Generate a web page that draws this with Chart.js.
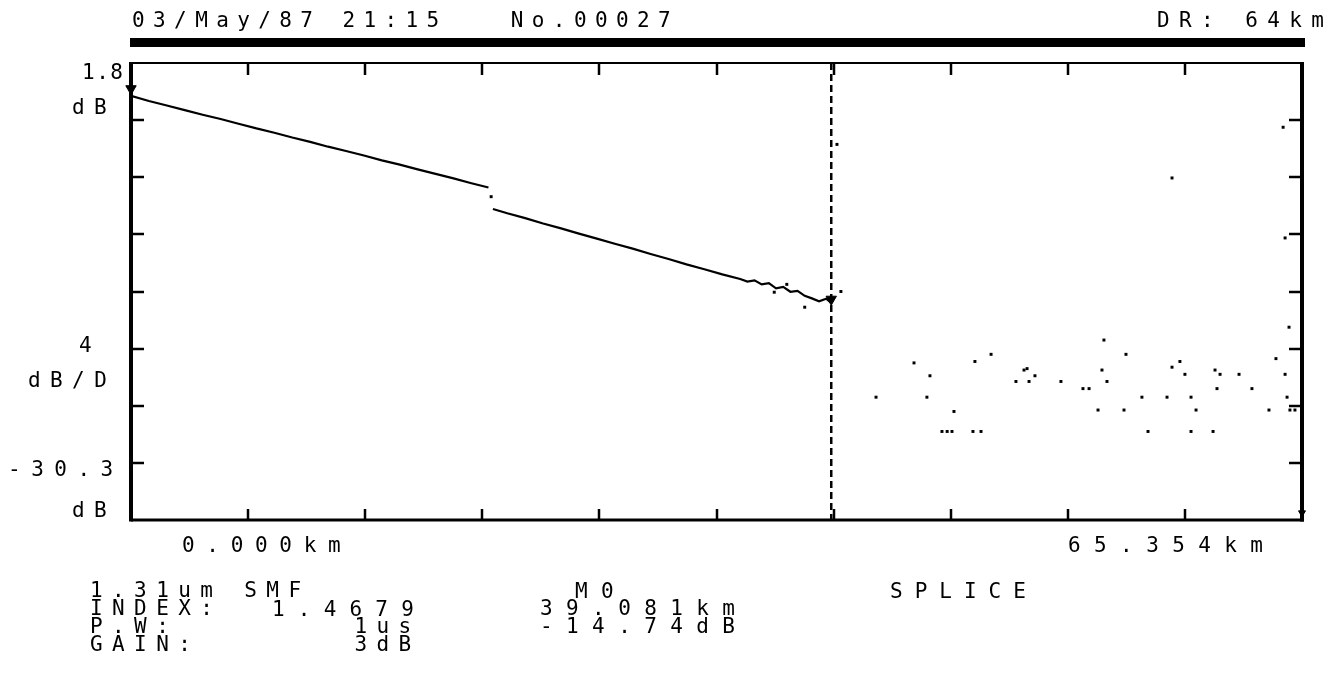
<!DOCTYPE html>
<html>
<head>
<meta charset="utf-8">
<script src="https://cdn.jsdelivr.net/npm/chart.js@4.4.1/dist/chart.umd.min.js"></script>
<style>
  html, body { margin: 0; padding: 0; background: #fff; }
  #wrap { position: relative; width: 1330px; height: 673px; overflow: hidden; background: #fff; }
  #c { position: absolute; left: 0; top: 0; }
  .t { position: absolute; font-family: "DejaVu Sans Mono", monospace; font-size: 21px; line-height: 21px;
       letter-spacing: 9.4px; white-space: pre; color: #000; }
  #bar { position: absolute; left: 130px; top: 38px; width: 1175px; height: 9px; background: #000; }
</style>
</head>
<body>
<div id="wrap">
  <canvas id="c" width="1330" height="673"></canvas>
  <div class="t" style="left:132px;top:10px;letter-spacing:8.4px;">03/May/87 21:15   No.00027</div>
  <div class="t" style="left:1157px;top:10px;">DR: 64km</div>
  <div id="bar"></div>

  <div class="t" style="left:82px;top:62px;letter-spacing:1.5px;">1.8</div>
  <div class="t" style="left:72px;top:97px;">dB</div>
  <div class="t" style="left:79px;top:335px;">4</div>
  <div class="t" style="left:28px;top:370px;">dB/D</div>
  <div class="t" style="left:8px;top:459px;letter-spacing:10.5px;">-30.3</div>
  <div class="t" style="left:72px;top:500px;">dB</div>

  <div class="t" style="left:182px;top:535px;letter-spacing:11.7px;">0.000km</div>
  <div class="t" style="left:1068px;top:535px;letter-spacing:13.4px;">65.354km</div>

  <div class="t" style="left:90px;top:581px;line-height:18px;">1.31um SMF
INDEX:
P.W:        1us
GAIN:       3dB</div>
  <div class="t" style="left:272px;top:599px;letter-spacing:13.2px;">1.4679</div>
  <div class="t" style="left:575px;top:581px;letter-spacing:13.4px;">M0</div>
  <div class="t" style="left:540px;top:599px;line-height:18px;letter-spacing:13.4px;">39.081km
-14.74dB</div>
  <div class="t" style="left:890px;top:581px;letter-spacing:12px;">SPLICE</div>
</div>
<script>
// ---- data ----
const traceKm = [0.0, 1.0, 2.0, 3.0, 4.0, 5.0, 6.0, 7.0, 8.0, 9.0, 10.0, 11.0, 12.0, 13.0, 14.0, 15.0, 16.0, 17.0, 18.0, 19.0, 19.95,
                 20.1,
                 20.2, 21.0, 22.0, 23.0, 24.0, 25.0, 26.0, 27.0, 28.0, 29.0, 30.0, 31.0, 32.0, 33.0, 34.0,
                 34.4, 34.8, 35.2, 35.6, 36.0, 36.4, 36.8, 37.2, 37.6, 38.0, 38.4, 38.8, 39.08];
const traceDb = [-0.50, -0.86, -1.18, -1.50, -1.82, -2.12, -2.45, -2.78, -3.08, -3.42, -3.72, -4.06, -4.36, -4.68, -5.02, -5.32, -5.65, -5.96, -6.28, -6.62, -6.92,
                 null,
                 -8.42, -8.72, -9.06, -9.44, -9.78, -10.15, -10.50, -10.86, -11.20, -11.57, -11.92, -12.30, -12.64, -13.00, -13.32,
                 -13.50, -13.42, -13.70, -13.62, -13.98, -13.88, -14.22, -14.15, -14.50, -14.68, -14.88, -14.70, -15.00];

const dotKm = [20.1, 35.9, 36.6, 37.6, 39.40, 39.62,
               41.58, 43.70, 44.59, 44.42, 45.93, 45.26, 45.55, 45.82, 46.99, 47.44, 47.10, 48.00, 49.39, 49.84, 50.01, 50.12, 50.45,
               51.90, 53.13, 53.47, 53.97, 54.19, 54.30, 54.47, 55.42, 55.53, 56.42, 56.76, 57.82, 58.10, 58.54, 58.82, 59.16, 59.16,
               59.44, 60.39, 60.50, 60.61, 60.78, 61.84, 62.56, 63.51, 63.90, 64.41, 64.52, 64.68, 64.96, 64.63,
               58.10, 64.41, 64.30];
const dotDb = [-7.56, -14.25, -13.70, -15.30, -3.90, -14.20,
               -21.6, -19.2, -20.1, -21.6, -22.6, -24.0, -24.0, -24.0, -24.0, -24.0, -19.1, -18.6, -20.5, -19.7, -19.6, -20.5, -20.1,
               -20.5, -21.0, -21.0, -22.5, -19.7, -17.6, -20.5, -22.5, -18.6, -21.6, -24.0, -21.6, -19.5, -19.1, -20.0, -21.6, -24.0,
               -22.5, -24.0, -19.7, -21.0, -20.0, -20.0, -21.0, -22.5, -18.9, -20.0, -21.6, -22.5, -22.5, -16.7,
               -6.25, -10.45, -2.7];

const markerKm = [0.0, 39.081, 65.354];
const markerDb = [0.0, -14.74, -29.7];

const cursorKm = [39.081, 39.081];
const cursorDb = [1.8, -30.2];

const xTickKm = [0, 6.535, 13.071, 19.606, 26.142, 32.677, 39.212, 45.748, 52.283, 58.819, 65.354];
const yTickDb = [1.8, -2.2, -6.2, -10.2, -14.2, -18.2, -22.2, -26.2, -30.2];

const X_MIN = 0, X_MAX = 65.354, Y_MIN = -30.2, Y_MAX = 1.8;

const pts = (xs, ys) => xs.map((x, i) => ({ x: x, y: ys[i] }));

// frame with inward ticks on all four sides, placed through the chart's scales
const framePlugin = {
  id: 'otdrFrame',
  beforeDatasetsDraw(chart) {
    const { ctx, chartArea: a, scales: { x, y } } = chart;
    ctx.save();
    ctx.strokeStyle = '#000';
    ctx.lineCap = 'butt';
    ctx.lineWidth = 2.5;
    xTickKm.slice(1, -1).forEach(v => {
      const px = Math.round(x.getPixelForValue(v));
      ctx.beginPath(); ctx.moveTo(px, a.top); ctx.lineTo(px, a.top + 12); ctx.stroke();
      ctx.beginPath(); ctx.moveTo(px, a.bottom); ctx.lineTo(px, a.bottom - 11); ctx.stroke();
    });
    yTickDb.slice(1, -1).forEach(v => {
      const py = Math.round(y.getPixelForValue(v));
      ctx.beginPath(); ctx.moveTo(a.left, py); ctx.lineTo(a.left + 13, py); ctx.stroke();
      ctx.beginPath(); ctx.moveTo(a.right, py); ctx.lineTo(a.right - 13, py); ctx.stroke();
    });
    ctx.lineWidth = 2;
    ctx.beginPath(); ctx.moveTo(a.left, a.top); ctx.lineTo(a.right + 2, a.top); ctx.stroke();
    ctx.lineWidth = 3;
    ctx.beginPath(); ctx.moveTo(a.left, a.bottom); ctx.lineTo(a.right + 2, a.bottom); ctx.stroke();
    ctx.lineWidth = 4;
    ctx.beginPath(); ctx.moveTo(a.left, a.top - 1); ctx.lineTo(a.left, a.bottom + 1.5); ctx.stroke();
    ctx.beginPath(); ctx.moveTo(a.right, a.top - 1); ctx.lineTo(a.right, a.bottom + 1.5); ctx.stroke();
    ctx.restore();
  }
};

new Chart(document.getElementById('c'), {
  type: 'scatter',
  data: {
    datasets: [
      {
        label: 'cursor',
        data: pts(cursorKm, cursorDb),
        showLine: true,
        borderColor: '#000',
        borderWidth: 2.5,
        borderDash: [7, 4],
        pointRadius: 0
      },
      {
        label: 'trace',
        data: pts(traceKm, traceDb),
        showLine: true,
        spanGaps: false,
        borderColor: '#000',
        borderWidth: 2.2,
        pointRadius: 0,
        tension: 0
      },
      {
        label: 'noise',
        data: pts(dotKm, dotDb),
        showLine: false,
        pointStyle: 'rect',
        pointRadius: 2.1,
        backgroundColor: '#000',
        borderColor: '#000',
        borderWidth: 0,
        clip: false
      },
      {
        label: 'markers',
        data: pts(markerKm, markerDb),
        showLine: false,
        pointStyle: 'triangle',
        rotation: 180,
        pointRadius: [6, 6, 4],
        backgroundColor: '#000',
        borderColor: '#000',
        borderWidth: 1,
        clip: false
      }
    ]
  },
  options: {
    responsive: false,
    animation: false,
    events: [],
    layout: { padding: { left: 131, top: 63, right: 28, bottom: 153 } },
    plugins: { legend: { display: false }, tooltip: { enabled: false }, title: { display: false } },
    scales: {
      x: { type: 'linear', min: X_MIN, max: X_MAX, display: false },
      y: { type: 'linear', min: Y_MIN, max: Y_MAX, display: false }
    }
  },
  plugins: [framePlugin]
});
</script>
</body>
</html>
